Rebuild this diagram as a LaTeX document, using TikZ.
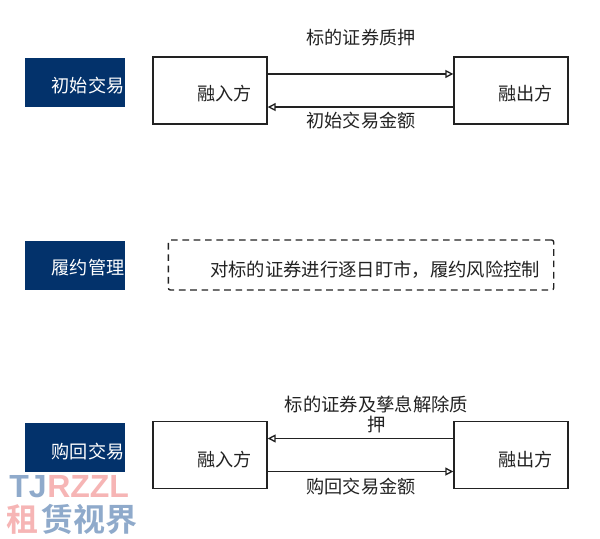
\documentclass[tikz,border=0pt]{standalone}
\usepackage{fontspec}
\setmainfont{Noto Sans CJK SC}
\newfontfamily\cjkb{Noto Sans CJK SC Bold}
\newfontfamily\latb{Liberation Sans Bold}
\usetikzlibrary{arrows.meta}
\definecolor{navy}{HTML}{03326B}
\definecolor{ink}{HTML}{222222}
\definecolor{wmblue}{HTML}{8FAACB}
\definecolor{wmpink}{HTML}{F6B5B5}
\tikzset{
  x=0.75pt,y=-0.75pt,
  txt/.style={inner sep=0pt,text=ink,font=\fontsize{13.6pt}{15pt}\selectfont},
  bigtxt/.style={inner sep=0pt,text=ink,font=\fontsize{13.75pt}{15pt}\selectfont},
  band/.style={draw=none,fill=navy,minimum width=75pt,minimum height=36.75pt,inner sep=0pt},
  bandtxt/.style={inner sep=0pt,text=white,font=\fontsize{13.6pt}{15pt}\selectfont},
  party/.style={draw=ink,line width=1pt,fill=white,minimum width=85.5pt,minimum height=50.25pt,inner sep=0pt},
  flow/.style={draw=ink,line width=1pt,-{Triangle[open,length=6pt,width=6pt]}},
  dashbox/.style={draw=ink,line width=1pt,rounded corners=1.5pt,dash pattern=on 5pt off 3.5pt,minimum width=289pt,minimum height=37.5pt,inner sep=0pt}
}
\begin{document}
\begin{tikzpicture}
\useasboundingbox[fill=white] (0,0) rectangle (600,539);
% left bands
\node[band] (b1) at (75,82.5) {};
\node[band] (b2) at (75,265.5) {};
\node[band] (b3) at (75,447.5) {};
\node[bandtxt] (b1t) at (88,86) {初始交易};
\node[bandtxt] (b2t) at (88,268) {履约管理};
\node[bandtxt] (b3t) at (88,452) {购回交易};
% top row
\node[party] (a1) at (210,90.5) {};
\node[party] (c1) at (511,90.5) {};
\node[txt] (a1t) at (224.5,94) {融入方};
\node[txt] (c1t) at (525.5,94) {融出方};
\draw[flow] ([yshift=12.4pt]a1.east) -- ([yshift=12.4pt]c1.west);
\draw[flow] ([yshift=-12.4pt]c1.west) -- ([yshift=-12.4pt]a1.east);
\node[txt] (l1) at (361,38) {标的证券质押};
\node[txt] (l2) at (361,121) {初始交易金额};
% middle
\node[dashbox] (d) at (361,265) {};
\node[bigtxt] (dt) at (375,270) {对标的证券进行逐日盯市，履约风险控制};
% bottom row
\node[party] (a3) at (210,455) {};
\node[party] (c3) at (511,455) {};
\node[txt] (a3t) at (224.5,460) {融入方};
\node[txt] (c3t) at (525.5,460) {融出方};
\draw[flow] ([yshift=12.4pt]c3.west) -- ([yshift=12.4pt]a3.east);
\draw[flow] ([yshift=-12.4pt]a3.east) -- ([yshift=-12.4pt]c3.west);
\node[bigtxt] (l3) at (376.5,404.5) {标的证券及孳息解除质};
\node[bigtxt] (l3b) at (376.5,424.5) {押};
\node[txt] (l4) at (361,487) {购回交易金额};
% watermark
\node[inner sep=0pt,anchor=base west,text=wmblue,font=\latb\fontsize{24pt}{25pt}\selectfont] (w1) at (9,497) {TJ};
\node[inner sep=0pt,anchor=base west,text=wmpink,font=\latb\fontsize{24pt}{25pt}\selectfont] (w2) at (47,497) {RZZL};
\node[inner sep=0pt,anchor=base west,text=wmpink,font=\cjkb\fontsize{24pt}{25pt}\selectfont] (w3) at (6,531) {租};
\node[inner sep=0pt,anchor=base west,text=wmblue,font=\cjkb\fontsize{24pt}{25pt}\selectfont] (w4) at (41,531) {赁视界};
\end{tikzpicture}
\end{document}
